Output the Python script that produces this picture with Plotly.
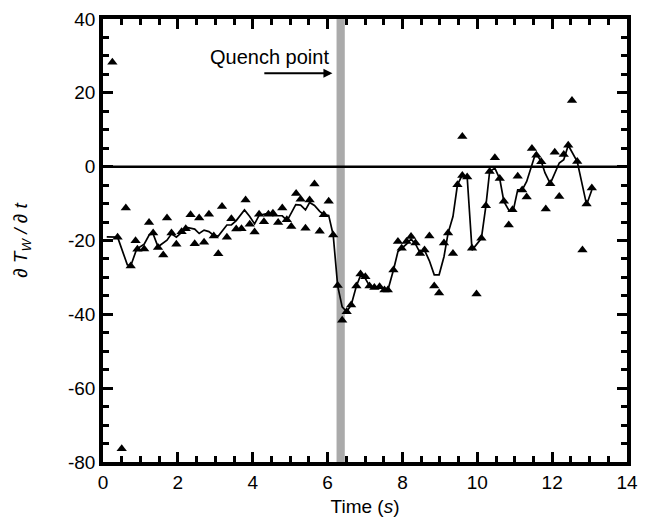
import plotly.graph_objects as go

# Scatter data (triangles)
pt_time = [0.25, 0.39, 0.50, 0.61, 0.74, 0.87, 0.92, 1.10, 1.23, 1.34, 1.47, 1.61, 1.71, 1.83, 1.96,
           2.10, 2.21, 2.34, 2.45, 2.57, 2.70, 2.83, 2.96, 3.08, 3.18, 3.31, 3.43, 3.56, 3.70, 3.81,
           3.92, 4.05, 4.17, 4.30, 4.42, 4.54, 4.68, 4.79, 4.91, 5.03, 5.16, 5.28, 5.41, 5.52, 5.65,
           5.79, 5.90, 6.03, 6.15, 6.27, 6.39, 6.51, 6.63, 6.77, 6.88, 7.01, 7.12, 7.25, 7.39, 7.52,
           7.61, 7.76, 7.88, 7.98, 8.11, 8.23, 8.35, 8.47, 8.59, 8.72, 8.85, 8.98, 9.11, 9.22, 9.35,
           9.47, 9.60, 9.60, 9.73, 9.86, 9.98, 10.11, 10.23, 10.33, 10.47, 10.60, 10.71, 10.84, 10.94,
           11.08, 11.20, 11.32, 11.46, 11.58, 11.71, 11.83, 11.95, 12.07, 12.19, 12.31, 12.43, 12.53,
           12.67, 12.81, 12.92, 13.06]
pt_value = [28.3, -19.1, -76.4, -11.2, -26.9, -20.1, -22.4, -22.3, -15.1, -18.0, -21.9, -23.9, -13.9, -18.0, -21.0,
            -17.6, -16.8, -13.0, -20.9, -13.9, -20.5, -12.9, -18.8, -23.6, -10.8, -19.1, -14.1, -16.9, -16.8, -9.0,
            -15.6, -17.7, -12.9, -14.9, -12.9, -12.6, -15.1, -11.2, -14.4, -16.2, -7.3, -8.8, -16.7, -9.0, -4.7,
            -17.5, -13.0, -9.4, -18.5, -32.2, -41.6, -39.3, -37.5, -32.3, -29.1, -29.8, -32.3, -32.7, -32.5, -33.4,
            -33.4, -28.0, -20.3, -22.1, -20.3, -18.9, -20.7, -23.5, -22.6, -18.8, -32.3, -34.2, -20.7, -18.0, -23.5,
            -4.9, 8.2, -2.4, -2.8, -22.1, -34.5, -19.4, -10.6, -1.3, 2.4, -3.2, -9.4, -15.8, -11.7,
            -2.6, -6.3, -8.2, 4.9, 3.1, 1.3, -11.5, -4.6, 3.9, -8.1, 3.3, 5.8, 17.9,
            1.4, -22.6, -10.1, -5.8]

# Smoothed line
line_time = [0.10, 0.39, 0.65, 0.74, 0.90, 1.10, 1.24, 1.34, 1.47, 1.71, 1.83, 1.96, 2.10, 2.21, 2.45,
             2.57, 2.70, 2.83, 2.96, 3.08, 3.31, 3.43, 3.56, 3.78, 3.92, 4.05, 4.17, 4.42, 4.54, 4.79,
             4.92, 5.15, 5.28, 5.41, 5.52, 5.65, 5.79, 5.90, 6.03, 6.15, 6.27, 6.39, 6.51, 6.63, 6.77,
             6.88, 7.01, 7.12, 7.25, 7.39, 7.52, 7.61, 7.76, 7.88, 7.98, 8.11, 8.23, 8.35, 8.47, 8.59,
             8.72, 8.85, 8.98, 9.11, 9.22, 9.35, 9.47, 9.60, 9.73, 9.86, 10.11, 10.23, 10.33, 10.47, 10.60,
             10.71, 10.85, 10.96, 11.08, 11.20, 11.32, 11.45, 11.56, 11.71, 11.81, 11.95, 12.07, 12.19, 12.31,
             12.43, 12.67, 12.92, 13.06]
line_value = [-19.0, -19.1, -26.6, -26.9, -22.3, -21.0, -18.4, -18.2, -21.7, -19.9, -18.2, -19.1, -17.8, -16.4, -16.9,
              -18.1, -17.2, -17.6, -18.6, -18.8, -15.8, -15.8, -14.6, -11.7, -13.5, -15.5, -13.2, -12.6, -13.3, -13.3,
              -14.6, -10.3, -10.4, -11.7, -9.7, -10.5, -12.1, -13.0, -13.2, -18.5, -32.3, -38.0, -39.3, -37.5, -32.3,
              -29.5, -30.3, -32.3, -32.7, -32.5, -33.5, -33.5, -28.0, -23.0, -22.1, -21.0, -19.6, -21.0, -23.3, -22.6,
              -25.5, -29.3, -29.3, -24.4, -18.0, -13.5, -4.9, -2.2, -2.8, -22.6, -19.4, -10.6, -1.3, -0.4, -3.3,
              -9.4, -11.9, -11.9, -6.3, -6.3, -4.0, 0.1, 3.7, 1.4, -1.7, -4.6, -1.7, 1.0, 1.9,
              5.8, 1.4, -10.3, -6.3]

x_tickvals = [0, 2, 4, 6, 8, 10, 12, 14]
x_ticktext = ["0", "2", "4", "6", "8", "10", "12", "14"]
y_tickvals = [-80, -60, -40, -20, 0, 20, 40]
y_ticktext = ["-80", "-60", "-40", "-20", "0", "20", "40"]

quench_start, quench_end = 6.24, 6.46

fig = go.Figure()
fig.add_trace(go.Scatter(x=line_time, y=line_value, mode="lines",
                         line=dict(color="black", width=1.7), showlegend=False))
fig.add_trace(go.Scatter(x=pt_time, y=pt_value, mode="markers",
                         marker=dict(symbol="triangle-up", size=9, color="black"), showlegend=False))

fig.add_shape(type="rect", x0=quench_start, x1=quench_end, y0=0, y1=1, yref="paper",
              fillcolor="#aaaaaa", line=dict(width=0), layer="below")
fig.add_shape(type="line", x0=0, x1=1, xref="paper", y0=0, y1=0,
              line=dict(color="black", width=2.5))

fig.add_annotation(x=6.13, y=25.3, ax=4.27, ay=25.3, axref="x", ayref="y",
                   showarrow=True, arrowhead=2, arrowsize=1, arrowwidth=1.8, arrowcolor="black", text="")
fig.add_annotation(x=4.45, y=29.8, text="Quench point", showarrow=False,
                   font=dict(size=20, color="black"))

axis_common = dict(showline=True, linecolor="black", linewidth=3.5, mirror="allticks",
                   ticks="inside", tickwidth=3, ticklen=10, tickcolor="black",
                   showgrid=False, zeroline=False, automargin=False,
                   tickfont=dict(size=19, color="black"))

fig.update_xaxes(range=[0, 14], tickmode="array", tickvals=x_tickvals, ticktext=x_ticktext,
                 minor=dict(dtick=0.5, tick0=0, ticks="inside", ticklen=6, tickwidth=3, tickcolor="black"),
                 title=dict(text="Time (<i>s</i>)", font=dict(size=19, color="black"), standoff=9),
                 **axis_common)
fig.update_yaxes(range=[-80, 40], tickmode="array", tickvals=y_tickvals, ticktext=y_ticktext,
                 minor=dict(dtick=5, tick0=0, ticks="inside", ticklen=6, tickwidth=3, tickcolor="black"),
                 title=dict(text="<i>∂ T<sub>W</sub> / ∂ t</i>", font=dict(size=19, color="black"), standoff=36),
                 **axis_common)

# page body has an 8px margin: compensate so the plot area lands where the reference has it
fig.update_layout(width=642, height=516, margin=dict(l=95, r=23, t=11, b=62),
                  plot_bgcolor="white", paper_bgcolor="white",
                  font=dict(family="Liberation Sans, Arial, sans-serif", color="black"))

fig.write_html("out.html")
